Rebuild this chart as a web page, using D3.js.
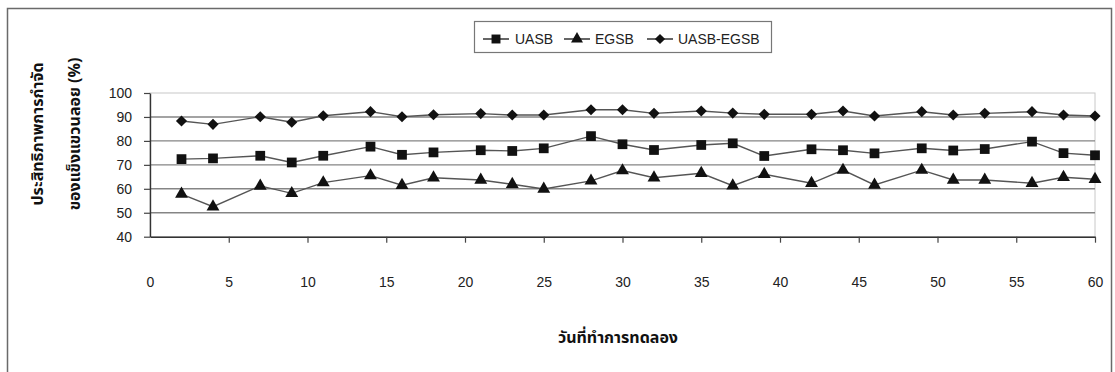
<!DOCTYPE html>
<html>
<head>
<meta charset="utf-8">
<script src="https://cdn.jsdelivr.net/npm/d3@7"></script>
<style>
  html, body { margin: 0; padding: 0; background: #fff; }
  svg { display: block; }
  text { font-family: "Liberation Sans", Arial, sans-serif; }
  .thai { font-family: "Noto Sans Thai", "Loma", "Garuda", "Tlwg Typo", "DejaVu Sans", sans-serif; font-weight: bold; }
</style>
</head>
<body>
<svg id="chart" width="1115" height="372"></svg>
<script>
// Experiment day for each sample
const days = [2, 4, 7, 9, 11, 14, 16, 18, 21, 23, 25, 28, 30, 32, 35, 37, 39, 42, 44, 46, 49, 51, 53, 56, 58, 60];

// Suspended-solids removal efficiency (%) per reactor
const uasb = [72.4, 72.7, 73.8, 71.0, 73.8, 77.6, 74.2, 75.2, 76.1, 75.8, 76.9, 82.0, 78.6, 76.2, 78.3, 79.0, 73.7,
              76.5, 76.1, 74.8, 76.9, 76.0, 76.6, 79.7, 74.9, 74.0];
const egsb = [57.8, 52.5, 61.2, 58.1, 62.6, 65.5, 61.5, 64.6, 63.7, 61.9, 59.9, 63.3, 67.6, 64.6, 66.5, 61.3, 66.1,
              62.3, 67.8, 61.6, 67.8, 63.7, 63.7, 62.3, 64.8, 64.0];
const uasbEgsb = [88.3, 86.9, 90.1, 87.8, 90.5, 92.2, 90.1, 90.9, 91.4, 90.8, 90.8, 93.0, 93.0, 91.5, 92.5, 91.6, 91.1,
                  91.1, 92.5, 90.4, 92.2, 90.8, 91.5, 92.2, 90.8, 90.4];

const seriesNames = ["UASB", "EGSB", "UASB-EGSB"];
const xTicks = [0, 5, 10, 15, 20, 25, 30, 35, 40, 45, 50, 55, 60];
const yTicks = [40, 50, 60, 70, 80, 90, 100];
const xTitle = "วันที่ทำการทดลอง";
const yTitleLines = ["ประสิทธิภาพการกำจัด", "ของแข็งแขวนลอย (%)"];

const svg = d3.select("#chart");

const x = d3.scaleLinear().domain([0, 60]).range([150, 1095]);
const y = d3.scaleLinear().domain([40, 100]).range([236.7, 93]);

// Outer chart frame
svg.append("rect")
  .attr("x", 7.5).attr("y", 8.5).attr("width", 1104).attr("height", 372)
  .attr("fill", "none").attr("stroke", "#6a6a6a").attr("stroke-width", 1.5);

// Plot-area frame (light)
svg.append("rect")
  .attr("x", x(0)).attr("y", y(100))
  .attr("width", x(60) - x(0)).attr("height", y(40) - y(100))
  .attr("fill", "none").attr("stroke", "#c8c8c8").attr("stroke-width", 1);

// Horizontal gridlines
svg.append("g").selectAll("line")
  .data(yTicks.filter(v => v > 40 && v < 100))
  .join("line")
  .attr("x1", x(0)).attr("x2", x(60))
  .attr("y1", d => y(d)).attr("y2", d => y(d))
  .attr("stroke", "#858585").attr("stroke-width", 1.4);

// Axes
const yAxis = svg.append("g")
  .attr("transform", `translate(${x(0)},0)`)
  .call(d3.axisLeft(y).tickValues(yTicks).tickSize(6).tickSizeOuter(0).tickPadding(12));
const xAxis = svg.append("g")
  .attr("transform", `translate(0,${y(40)})`)
  .call(d3.axisBottom(x).tickValues(xTicks).tickSize(6).tickSizeOuter(0).tickPadding(34));

[yAxis, xAxis].forEach(g => {
  g.select(".domain").attr("stroke", "#333").attr("stroke-width", 1.4);
  g.selectAll(".tick line").attr("stroke", "#444").attr("stroke-width", 1.2);
  g.selectAll(".tick text").attr("fill", "#222").style("font-size", "14px")
    .style("font-family", "'Liberation Sans', Arial, sans-serif");
});
xAxis.selectAll(".tick").filter(d => d === 0).select("line").remove();

// Series
const diamond = {
  draw(ctx, size) {
    const r = Math.sqrt(size) / 2 * Math.SQRT2;
    ctx.moveTo(0, -r); ctx.lineTo(r, 0); ctx.lineTo(0, r); ctx.lineTo(-r, 0); ctx.closePath();
  }
};
const symbols = [d3.symbolSquare, d3.symbolTriangle, diamond];
const symbolSizes = [95, 72, 62];
const allSeries = [uasb, egsb, uasbEgsb];

const line = d3.line().x(d => x(d[0])).y(d => y(d[1]));

allSeries.forEach((vals, i) => {
  const pts = days.map((d, j) => [d, vals[j]]);
  const g = svg.append("g");
  g.append("path").attr("d", line(pts))
    .attr("fill", "none").attr("stroke", "#555").attr("stroke-width", 1.4);
  g.selectAll("path.m").data(pts).join("path").attr("class", "m")
    .attr("transform", d => `translate(${x(d[0])},${y(d[1])})`)
    .attr("d", d3.symbol().type(symbols[i]).size(symbolSizes[i]))
    .attr("fill", "#111");
});

// Legend
const legend = svg.append("g");
legend.append("rect")
  .attr("x", 474.5).attr("y", 21.5).attr("width", 297).attr("height", 31)
  .attr("fill", "#fff").attr("stroke", "#777").attr("stroke-width", 1.2);
const legendItems = [
  { lx: 483, tx: 515 },
  { lx: 564, tx: 595 },
  { lx: 647, tx: 678 }
];
const legendSizes = [80, 62, 52];
legendItems.forEach((it, i) => {
  const cy = 39;
  legend.append("line").attr("x1", it.lx).attr("x2", it.lx + 26).attr("y1", cy).attr("y2", cy)
    .attr("stroke", "#333").attr("stroke-width", 1.5);
  legend.append("path")
    .attr("transform", `translate(${it.lx + 13},${cy})`)
    .attr("d", d3.symbol().type(symbols[i]).size(legendSizes[i]))
    .attr("fill", "#111");
  legend.append("text").attr("x", it.tx).attr("y", cy).attr("dy", "0.36em")
    .attr("fill", "#222").style("font-size", "14px").text(seriesNames[i]);
});

// Axis titles
svg.append("text").attr("class", "thai")
  .attr("x", 618).attr("y", 337).attr("dy", "0.35em").attr("text-anchor", "middle")
  .attr("fill", "#111").style("font-size", "16px").text(xTitle);

const yTitleX = [37, 74];
yTitleLines.forEach((t, i) => {
  svg.append("text").attr("class", "thai")
    .attr("transform", `translate(${yTitleX[i]},134) rotate(-90)`)
    .attr("text-anchor", "middle").attr("dy", "0.35em")
    .attr("fill", "#111").style("font-size", "16px").text(t);
});
</script>
</body>
</html>
